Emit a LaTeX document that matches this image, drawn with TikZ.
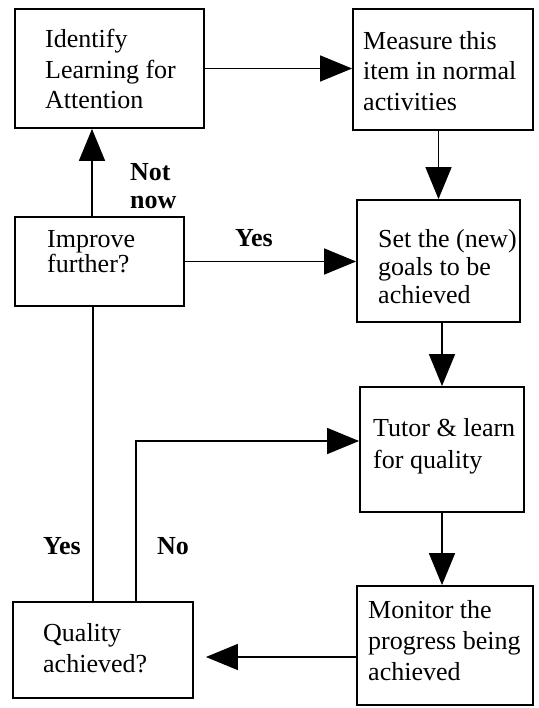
\documentclass[tikz,border=0pt]{standalone}
\usepackage{fontspec}
\setmainfont{Liberation Serif}
\usetikzlibrary{arrows.meta,calc}
\begin{document}
\begin{tikzpicture}[x=1pt,y=-1pt,
  box/.style={draw, line width=1.8pt, rectangle, inner sep=0pt},
  txt/.style={align=left, inner sep=0pt, anchor=north west},
  lbl/.style={align=left, inner sep=0pt, anchor=north west, font=\fontsize{26}{28}\selectfont\bfseries},
  conn/.style={line width=1.5pt},
  arr/.style={line width=1.5pt, -{Triangle[length=32pt,width=26pt]}}
]
\useasboundingbox[fill=white] (0,0) rectangle (538,708);
% boxes
\node[box, minimum width=189pt, minimum height=119pt] (b1) at (109.5,68.5) {};
\node[box, minimum width=180pt, minimum height=121pt] (b2) at (443,69.5) {};
\node[box, minimum width=169pt, minimum height=89pt] (b3) at (99.5,261.5) {};
\node[box, minimum width=163pt, minimum height=122pt] (b4) at (438.5,261) {};
\node[box, minimum width=164pt, minimum height=125pt] (b5) at (442,449.5) {};
\node[box, minimum width=176pt, minimum height=119pt] (b6) at (445,645.5) {};
\node[box, minimum width=180pt, minimum height=96pt] (b7) at (103,650) {};
% texts
\node[txt, font=\fontsize{26}{30.5}\selectfont] (t1) at (45,29) {Identify\\Learning for\\Attention};
\node[txt, font=\fontsize{26}{30.5}\selectfont] (t2) at (363,31) {Measure this\\item in normal\\activities};
\node[txt, font=\fontsize{26}{25}\selectfont] (t3) at (47,230) {Improve\\further?};
\node[txt, font=\fontsize{26}{28}\selectfont] (t4) at (378,229) {Set the (new)\\goals to be\\achieved};
\node[txt, font=\fontsize{26}{32}\selectfont] (t5) at (373,418) {Tutor \& learn\\for quality};
\node[txt, font=\fontsize{26}{31}\selectfont] (t6) at (368,600) {Monitor the\\progress being\\achieved};
\node[txt, font=\fontsize{26}{31}\selectfont] (t7) at (43,623) {Quality\\achieved?};
% labels
\node[lbl] (l1) at (130,163) {Not\\now};
\node[lbl] (l2) at (235,229) {Yes};
\node[lbl] (l3) at (43,537) {Yes};
\node[lbl] (l4) at (157,537) {No};
% connectors
\draw[arr] (b1.east) -- (b1.east -| b2.west);
\draw[arr] (b4.north |- b2.south) -- (b4.north);
\draw[arr] (b3.east) -- (b3.east -| b4.west);
\draw[arr] ([xshift=-7.5pt]b3.north) -- ([xshift=-7.5pt]b3.north |- b1.south);
\draw[arr] (b5.north |- b4.south) -- (b5.north);
\draw[arr] (b5.south) -- (b5.south |- b6.north);
\draw[arr, shorten >=12pt] ([yshift=-7pt]b6.west |- b7.east) -- ([yshift=-7pt]b7.east);
\draw[conn] ([xshift=-6.5pt]b3.south) -- ([xshift=-6.5pt]b3.south |- b7.north);
\draw[arr] ([xshift=33pt]b7.north) |- ([yshift=8.5pt]b5.west);
\end{tikzpicture}
\end{document}
